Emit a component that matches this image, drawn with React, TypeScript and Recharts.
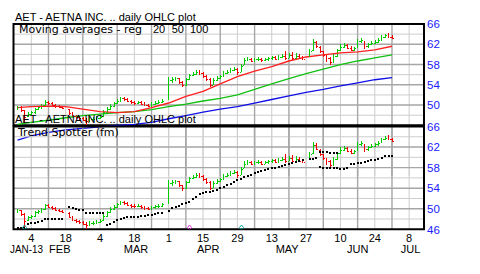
import React from 'react';
import { ComposedChart, Bar, Line, Scatter, XAxis, YAxis, CartesianGrid, ReferenceArea } from 'recharts';

// x = weekday index counted from Mon 4 Feb 2013 (market holidays have no bar)
const days = [
  -4, -3, -2, -1, 0, 1, 2, 3, 4, 5, 6, 7, 8, 9,
  11, 12, 13, 14, 15, 16, 17, 18, 19, 20, 21, 22, 23, 24, 25, 26, 27, 28, 29, 30, 31, 32, 33, 34, 35, 36, 37, 38,
  40, 41, 42, 43, 44, 45, 46, 47, 48, 49, 50, 51, 52, 53, 54, 55, 56, 57, 58, 59,
  60, 61, 62, 63, 64, 65, 66, 67, 68, 69, 70, 71, 72, 73, 74, 75, 76, 77, 78, 79,
  81, 82, 83, 84, 85, 86, 87, 88, 89, 90, 91, 92, 93, 94, 95, 96, 97, 98, 99, 100, 101, 102, 103, 104, 105,
];
const opens = [
  49.3, 49.7, 49.0, 47.8, 48.3, 48.6, 49.3, 49.6, 50.0, 50.7, 50.4, 50.1, 49.8, 49.6,
  49.2, 48.4, 47.8, 47.6, 47.4, 47.1, 46.9, 47.2, 47.3, 47.5, 47.8, 48.6, 49.3, 49.9, 50.4, 50.9, 51.3, 51.1, 50.8, 50.6, 50.5, 50.6, 50.3, 50.1, 49.9, 50.3, 50.5, 50.6,
  51.2, 55.0, 55.2, 55.3, 54.6, 54.0, 55.2, 55.9, 56.2, 56.5, 56.3, 55.7, 55.2, 54.0, 55.0, 55.4, 55.7, 56.4, 56.6, 56.9,
  57.2, 56.6, 57.9, 58.8, 59.0, 58.7, 59.0, 59.1, 58.8, 59.0, 59.2, 59.4, 59.0, 59.5, 59.7, 59.3, 59.8, 59.2, 59.6, 59.3,
  59.7, 60.8, 62.4, 61.5, 60.6, 59.8, 59.2, 58.5, 59.6, 60.8, 61.5, 61.8, 61.3, 60.9, 61.4, 62.6, 62.4, 61.6, 62.0, 62.3, 62.5, 62.9, 63.5, 63.8, 63.5,
];
const highs = [
  49.9, 49.8, 49.1, 48.6, 48.8, 49.5, 49.8, 50.2, 51.0, 50.9, 50.6, 50.3, 50.0, 49.8,
  49.3, 48.6, 48.1, 47.9, 47.6, 47.5, 47.6, 47.7, 47.8, 48.0, 49.0, 49.6, 50.3, 50.7, 51.2, 51.6, 51.6, 51.3, 51.0, 50.9, 50.9, 50.8, 50.6, 50.3, 50.6, 50.8, 51.0, 51.2,
  55.5, 55.6, 55.6, 55.4, 54.7, 55.4, 56.1, 56.5, 56.9, 56.9, 56.5, 55.9, 55.3, 55.3, 55.7, 55.9, 56.7, 56.9, 57.3, 57.5,
  57.3, 58.1, 59.2, 59.4, 59.2, 59.2, 59.4, 59.3, 59.3, 59.5, 59.7, 59.6, 59.8, 60.0, 60.7, 60.2, 60.5, 60.3, 60.0, 59.6,
  61.0, 63.0, 62.7, 61.6, 60.7, 59.9, 59.4, 60.0, 61.0, 62.0, 62.2, 62.0, 61.6, 61.5, 63.0, 63.2, 62.6, 62.3, 62.6, 62.8, 63.2, 63.8, 64.1, 64.3, 63.8,
];
const lows = [
  49.2, 48.7, 46.3, 47.6, 48.0, 48.4, 49.0, 49.3, 49.8, 50.2, 49.9, 49.6, 49.4, 49.2,
  48.2, 47.6, 47.3, 47.1, 46.8, 46.1, 46.8, 47.0, 47.1, 47.3, 47.7, 48.5, 49.2, 49.8, 50.3, 50.8, 50.8, 50.6, 50.3, 50.2, 50.3, 50.1, 49.8, 49.7, 49.8, 50.1, 50.3, 50.5,
  51.0, 54.5, 54.8, 54.2, 53.6, 53.9, 55.0, 55.7, 56.0, 55.9, 55.3, 54.8, 53.5, 53.9, 54.7, 55.1, 55.6, 56.1, 56.4, 56.8,
  56.0, 56.5, 57.8, 58.6, 58.5, 58.6, 58.7, 58.5, 58.7, 58.8, 59.0, 58.8, 58.9, 59.3, 58.9, 59.2, 58.9, 59.0, 59.0, 58.8,
  59.6, 60.7, 61.4, 60.3, 59.5, 58.6, 57.8, 58.2, 59.5, 60.7, 61.2, 61.0, 60.7, 60.8, 61.3, 62.2, 61.0, 61.4, 61.8, 62.0, 62.3, 62.8, 63.3, 63.3, 63.0,
];
const closes = [
  49.7, 49.0, 47.6, 48.3, 48.6, 49.3, 49.6, 50.0, 50.7, 50.4, 50.1, 49.8, 49.6, 49.4,
  48.4, 47.8, 47.6, 47.4, 47.1, 46.9, 47.2, 47.3, 47.5, 47.7, 48.6, 49.3, 49.9, 50.4, 50.9, 51.3, 51.1, 50.8, 50.6, 50.5, 50.6, 50.3, 50.1, 49.9, 50.3, 50.5, 50.6, 50.9,
  55.0, 55.2, 55.3, 54.6, 54.0, 55.2, 55.9, 56.2, 56.5, 56.3, 55.7, 55.2, 54.0, 55.0, 55.4, 55.7, 56.4, 56.6, 56.9, 57.2,
  56.5, 57.8, 58.8, 59.0, 58.7, 59.0, 59.1, 58.8, 59.0, 59.2, 59.4, 59.0, 59.5, 59.7, 59.3, 59.8, 59.2, 59.6, 59.3, 59.1,
  60.7, 62.4, 61.7, 60.6, 59.8, 59.2, 58.5, 59.6, 60.8, 61.5, 61.8, 61.3, 60.9, 61.2, 62.6, 62.8, 61.6, 62.0, 62.3, 62.5, 62.8, 63.5, 63.8, 63.5, 63.2,
];
// Trend Spotter stop, one per bar (parallel to days)
const trendValues = [
  46.3, 46.3, 46.3, 47.0, 47.2, 47.3, 47.5, 47.6, 48.0, 48.1, 48.1, 48.1, 48.1, 48.1,
  50.3, 50.1, 49.9, 49.8, 49.7, 49.2, 49.2, 49.2, 49.2, 49.2, 49.2, 46.8, 47.0, 47.4, 47.9, 48.0, 48.2, 48.3, 48.3, 48.3, 48.4, 48.5, 48.6, 48.7, 48.8, 49.0, 49.1, 49.2,
  49.6, 50.1, 50.4, 50.6, 50.9, 51.1, 51.4, 51.8, 52.3, 52.8, 53.0, 53.2, 53.3, 53.5, 53.7, 54.0, 54.3, 54.6, 54.9, 55.2,
  55.5, 55.8, 56.1, 56.4, 56.6, 56.9, 57.1, 57.3, 57.5, 57.7, 57.9, 58.0, 58.1, 58.3, 58.5, 58.7, 58.9, 59.0, 59.2, 59.4,
  59.6, 59.7, 59.8, 58.1, 58.0, 58.0, 57.9, 57.9, 57.9, 57.8, 57.8, 57.9, 58.8, 58.8, 58.9, 58.9, 59.0, 59.3, 59.4, 59.5, 59.6, 59.8, 60.2, 60.3, 60.3,
];
const trendUpperDays = [84, 85, 86, 87, 88, 89];
const trendUpperValues = [61.0, 61.0, 61.0, 60.9, 60.9, 60.9];

// moving averages (20 / 50 / 100 day)
const maDays = [-4, 0, 5, 10, 15, 20, 25, 30, 35, 40, 45, 50, 55, 60, 65, 70, 75, 80, 85, 90, 95, 100, 105];
const ma20 = [49.5, 49.7, 49.8, 49.7, 49.2, 48.7, 48.5, 48.7, 49.5, 50.4, 51.7, 52.7, 54.2, 55.6, 56.7, 57.6, 58.7, 59.5, 59.9, 60.3, 60.5, 60.9, 61.6];
const ma50 = [46.2, 46.6, 47.0, 47.5, 47.9, 48.2, 48.5, 48.7, 49.1, 49.7, 50.2, 50.8, 51.3, 52.0, 53.1, 54.2, 55.2, 56.2, 57.1, 58.0, 58.7, 59.3, 59.9];
const ma100 = [43.1, 43.9, 44.6, 45.1, 45.4, 45.7, 46.0, 46.2, 46.6, 47.3, 47.9, 48.6, 49.2, 49.7, 50.4, 51.1, 51.8, 52.5, 53.1, 53.8, 54.4, 55.0, 55.4];

const earningsDays = [-2, 61];
const dividendDays = [46];

const dayTicks = [0, 10, 20, 30, 40, 50, 60, 70, 80, 90, 100, 110];
const dayLabels = ['4', '18', '4', '18', '1', '15', '29', '13', '27', '10', '24', '8'];
const monthTicks = [-1.4, 8.3, 30.5, 51.5, 74.5, 95, 110.4];
const monthLabels = ['JAN-13', 'FEB', 'MAR', 'APR', 'MAY', 'JUN', 'JUL'];
const topPriceTicks = [50, 54, 58, 62, 66];
const bottomPriceTicks = [46, 50, 54, 58, 62, 66];
const majorY = [50, 54, 58, 62];
const minorY = [48, 52, 56, 60, 64];
const majorX = [5, 15, 25, 35, 45, 55, 65, 75, 85, 95, 105];
const minorX = [0, 10, 20, 30, 40, 50, 60, 70, 80, 90, 100, 110];

const X_DOMAIN: [number, number] = [-5.18, 114.32];
const GREEN = '#00cc00';
const RED = '#f00000';
const AXIS_FONT = "'Liberation Sans', Arial, sans-serif";
const TEXT_FONT = "'DejaVu Sans', Verdana, sans-serif";

const rows = days.map((d, k) => ({
  i: d, o: opens[k], h: highs[k], l: lows[k], c: closes[k],
  range: [lows[k], highs[k]],
  up: k === 0 ? closes[k] >= opens[k] : closes[k] >= closes[k - 1],
}));
const trendRows = days.map((d, k) => ({ i: d, v: trendValues[k] }));
const trendUpperRows = trendUpperDays.map((d, k) => ({ i: d, v: trendUpperValues[k] }));
const maRows = maDays.map((d, k) => ({ i: d, r: ma20[k], g: ma50[k], b: ma100[k] }));
const eventRows = [
  ...earningsDays.map((d) => ({ i: d, v: 46.4, kind: 'e' })),
  ...dividendDays.map((d) => ({ i: d, v: 46.4, kind: 'd' })),
];

const RangeShape = (p: any) => {
  const { x, y, width, height, payload } = p;
  if (x == null || y == null || !payload) return null;
  const col = Math.round(x + width / 2);
  const top = Math.round(Math.min(y, y + height));
  const h = Math.max(1, Math.round(Math.abs(height)));
  return <rect x={col} y={top} width={1} height={h} fill={payload.up ? GREEN : RED} />;
};
const OpenTick = (p: any) => {
  const { cx, cy, payload } = p;
  if (cx == null) return null;
  return <rect x={Math.round(cx) - 1} y={Math.round(cy)} width={1} height={1} fill={payload.up ? GREEN : RED} />;
};
const CloseTick = (p: any) => {
  const { cx, cy, payload } = p;
  if (cx == null) return null;
  return <rect x={Math.round(cx) + 1} y={Math.round(cy)} width={1} height={1} fill={payload.up ? GREEN : RED} />;
};
const TrendDot = (p: any) => {
  const { cx, cy } = p;
  if (cx == null) return null;
  return <rect x={Math.round(cx) - 1} y={Math.round(cy) - 1} width={2} height={2} fill="#000" />;
};
const EventMark = (p: any) => {
  const { cx, cy, payload } = p;
  if (cx == null) return null;
  const col = payload.kind === 'd' ? '#e030e0' : '#00a8a8';
  const x = Math.round(cx) + 0.5;
  const y = Math.round(cy) + 0.5;
  return <path d={`M${x} ${y - 2.5} L${x + 2} ${y} L${x} ${y + 2.5} L${x - 2} ${y} Z`} fill="none" stroke={col} strokeWidth={1} />;
};

const PriceTick = (p: any) => (
  <text x={p.x} y={p.y} dy={4.2} textAnchor="start" fontSize={11.5} fontFamily={AXIS_FONT} fill="#2020ff">
    {p.payload.value}
  </text>
);
const DayTick = (p: any) => {
  const k = dayTicks.indexOf(p.payload.value);
  return (
    <text x={p.x} y={p.y + 12.7} textAnchor="middle" fontSize={11} fontFamily={AXIS_FONT} fill="#000">
      {dayLabels[k >= 0 ? k : p.index]}
    </text>
  );
};
const MonthTick = (p: any) => {
  const k = monthTicks.indexOf(p.payload.value);
  const idx = k >= 0 ? k : p.index;
  const label = monthLabels[idx];
  const fit = label.length > 3 ? { textLength: 33, lengthAdjust: 'spacingAndGlyphs' as const } : {};
  return (
    <text x={p.x} y={p.y + 10.7} textAnchor="middle" fontSize={11} fontFamily={AXIS_FONT} fill="#000" {...fit}>
      {label}
    </text>
  );
};

const TopChart = () => (
  <ComposedChart width={480} height={274} data={rows} margin={{ top: 24, right: 0, bottom: 98, left: 13.5 }}>
    <CartesianGrid horizontalValues={minorY} verticalValues={minorX} stroke="#cdcdcd" strokeWidth={1} />
    <CartesianGrid horizontalValues={majorY} verticalValues={majorX} stroke="#a6a6a6" strokeWidth={1.4} />
    <XAxis dataKey="i" type="number" domain={X_DOMAIN} allowDataOverflow hide />
    <YAxis
      orientation="right" type="number" domain={[36, 66]} allowDataOverflow width={56}
      ticks={topPriceTicks} interval={0} tick={PriceTick} axisLine={false} tickLine={false} tickSize={0} tickMargin={3}
    />
    <Bar dataKey="range" barSize={1} shape={RangeShape} isAnimationActive={false} />
    <Scatter data={rows} dataKey="o" shape={OpenTick} isAnimationActive={false} />
    <Scatter data={rows} dataKey="c" shape={CloseTick} isAnimationActive={false} />
    <Line data={maRows} dataKey="b" stroke="#1010e8" strokeWidth={1.3} dot={false} type="linear" isAnimationActive={false} />
    <Line data={maRows} dataKey="g" stroke="#10c010" strokeWidth={1.3} dot={false} type="linear" isAnimationActive={false} />
    <Line data={maRows} dataKey="r" stroke="#ff2020" strokeWidth={1.4} dot={false} type="linear" isAnimationActive={false} />
    <ReferenceArea x1={X_DOMAIN[0]} x2={X_DOMAIN[1]} y1={46} y2={66} fill="none" fillOpacity={0} stroke="#000" strokeWidth={2} ifOverflow="visible" />
  </ComposedChart>
);

const BottomChart = () => (
  <ComposedChart width={480} height={274} data={rows} margin={{ top: 126.5, right: 0, bottom: 18.7, left: 13.5 }}>
    <CartesianGrid horizontalValues={minorY} verticalValues={minorX} stroke="#cdcdcd" strokeWidth={1} />
    <CartesianGrid horizontalValues={majorY} verticalValues={majorX} stroke="#a6a6a6" strokeWidth={1.4} />
    <XAxis
      dataKey="i" type="number" domain={X_DOMAIN} allowDataOverflow height={13}
      ticks={dayTicks} interval={0} tick={DayTick} axisLine={false} tickLine={false} tickSize={0} tickMargin={0}
    />
    <XAxis
      xAxisId="m" dataKey="i" type="number" domain={X_DOMAIN} allowDataOverflow height={13}
      ticks={monthTicks} interval={0} tick={MonthTick} axisLine={false} tickLine={false} tickSize={0} tickMargin={0}
    />
    <YAxis
      orientation="right" type="number" domain={[46, 66]} allowDataOverflow width={56}
      ticks={bottomPriceTicks} interval={0} tick={PriceTick} axisLine={false} tickLine={false} tickSize={0} tickMargin={3}
    />
    <Bar dataKey="range" barSize={1} shape={RangeShape} isAnimationActive={false} />
    <Scatter data={rows} dataKey="o" shape={OpenTick} isAnimationActive={false} />
    <Scatter data={rows} dataKey="c" shape={CloseTick} isAnimationActive={false} />
    <Scatter data={trendRows} dataKey="v" shape={TrendDot} isAnimationActive={false} />
    <Scatter data={trendUpperRows} dataKey="v" shape={TrendDot} isAnimationActive={false} />
    <Scatter data={eventRows} dataKey="v" shape={EventMark} isAnimationActive={false} />
    <ReferenceArea x1={X_DOMAIN[0]} x2={X_DOMAIN[1]} y1={46} y2={66} fill="none" fillOpacity={0} stroke="#000" strokeWidth={2} ifOverflow="visible" />
  </ComposedChart>
);

export default function App() {
  return (
    <div style={{ position: 'absolute', left: 0, top: 0, width: 480, height: 274, background: '#fff', overflow: 'hidden' }}>
      <div style={{ position: 'absolute', left: 0, top: 0 }}>
        <TopChart />
      </div>
      <div style={{ position: 'absolute', left: 0, top: 0 }}>
        <BottomChart />
      </div>
      <svg width={480} height={274} style={{ position: 'absolute', left: 0, top: 0, pointerEvents: 'none' }}>
        <text x={15} y={20.7} fontSize={11} fontFamily={AXIS_FONT} fill="#000">AET - AETNA INC. .. daily OHLC plot</text>
        <text x={19} y={33.3} fontSize={11} fontFamily={TEXT_FONT} fill="#000">Moving averages - reg</text>
        <text x={153} y={33.3} fontSize={11} fontFamily={AXIS_FONT} fill="#000">20</text>
        <text x={171.7} y={33.3} fontSize={11} fontFamily={AXIS_FONT} fill="#000">50</text>
        <text x={190} y={33.3} fontSize={11} fontFamily={AXIS_FONT} fill="#000">100</text>
        <text x={15} y={122.7} fontSize={11} fontFamily={AXIS_FONT} fill="#000">AET - AETNA INC. .. daily OHLC plot</text>
        <text x={18} y={135.8} fontSize={11} fontFamily={TEXT_FONT} fill="#000">Trend Spotter (fm)</text>
      </svg>
    </div>
  );
}
